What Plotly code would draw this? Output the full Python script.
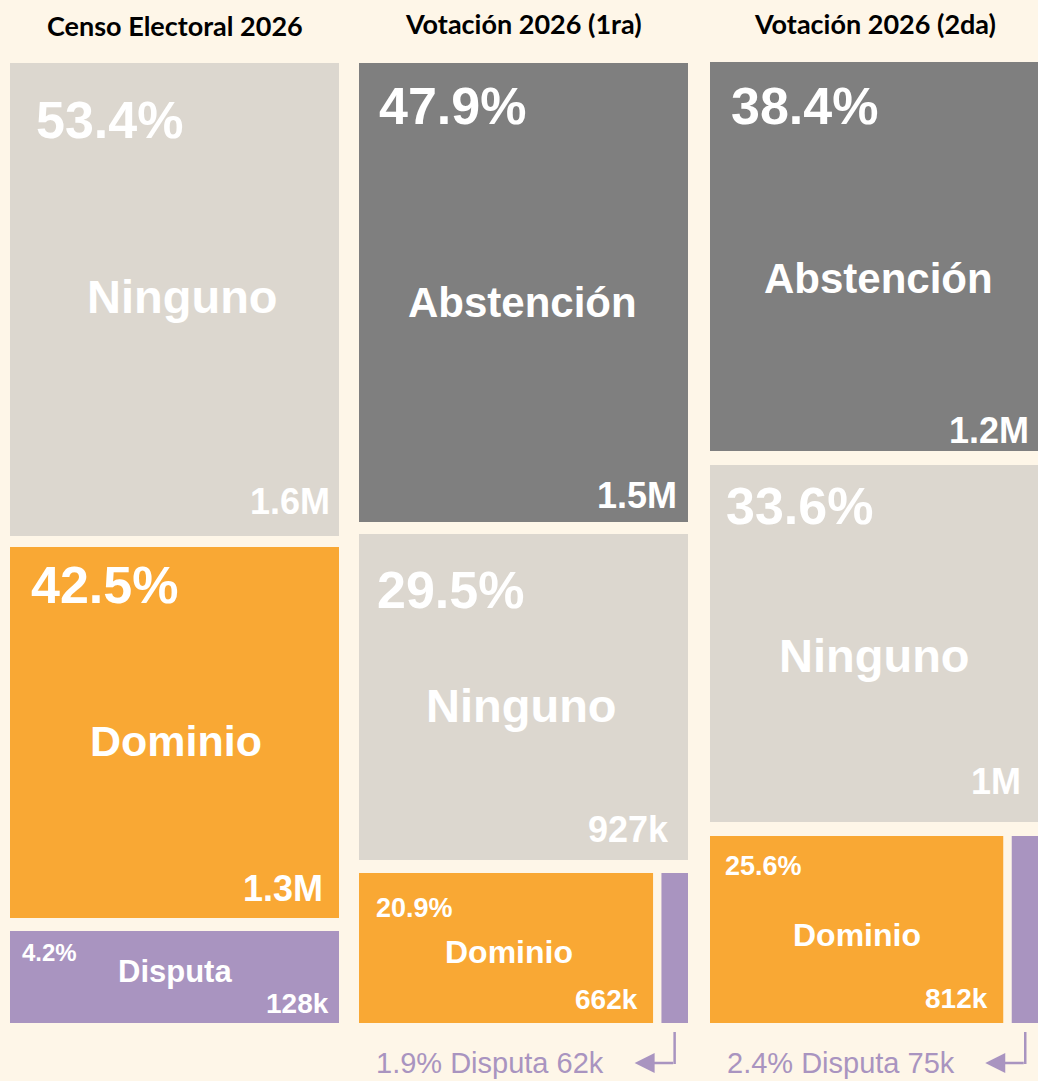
import plotly.graph_objects as go

# ---------------- data ----------------
column_titles = ["Censo Electoral 2026", "Votación 2026 (1ra)", "Votación 2026 (2da)"]

censo_cats = ["Ninguno", "Dominio", "Disputa"]
censo_pct = [53.4, 42.5, 4.2]
censo_votes = ["1.6M", "1.3M", "128k"]

vot1_cats = ["Abstención", "Ninguno", "Dominio", "Disputa"]
vot1_pct = [47.9, 29.5, 20.9, 1.9]
vot1_votes = ["1.5M", "927k", "662k", "62k"]

vot2_cats = ["Abstención", "Ninguno", "Dominio", "Disputa"]
vot2_pct = [38.4, 33.6, 25.6, 2.4]
vot2_votes = ["1.2M", "1M", "812k", "75k"]

columns = [
    (censo_cats, censo_pct, censo_votes),
    (vot1_cats, vot1_pct, vot1_votes),
    (vot2_cats, vot2_pct, vot2_votes),
]

# ---------------- layout / style ----------------
W, H = 1038, 1081
BG = "#FEF6E8"
COLORS = {"Ninguno": "#DCD7CF", "Abstención": "#7F7F7F",
          "Dominio": "#F9A834", "Disputa": "#A994C0"}
LABEL_FONT = "Liberation Sans, Arial, sans-serif"
TITLE_FONT = "Lato, Open Sans, sans-serif"

COL_X = [(10, 339), (359, 688), (710, 1039)]
ROW_Y = [[(63, 536), (547, 918), (931, 1023)],
         [(63, 522), (534, 860), (873, 1023)],
         [(62, 451), (465, 822), (836, 1023)]]
ROWS = [[[0], [1], [2]], [[0], [1], [2, 3]], [[0], [1], [2, 3]]]
CELL_GAP = 8
TITLE_Y = [26, 23, 23]

# per cell style: font sizes (pct, name, value), pct offset (dx, dy), name offset (dx, dy), value offset (dx, dy)
STYLE = {
    (0, 0): ((52, 47, 36), (24, 57), (8, -3), (7, 34)),
    (0, 1): ((52, 43, 36), (19, 38), (1, 8), (14, 30)),
    (0, 2): ((24, 31, 28), (10, 21), (0, -6), (8, 20)),
    (1, 0): ((52, 42, 36), (18, 43), (-1, 10), (9, 27)),
    (1, 1): ((52, 47, 36), (16, 56), (-2, 8), (17, 31)),
    (1, 2): ((27, 32, 28), (15, 35), (3, 4), (13, 24)),
    (2, 0): ((52, 42, 36), (19, 44), (4, 22), (8, 21)),
    (2, 1): ((52, 47, 36), (14, 41), (0, 12), (16, 41)),
    (2, 2): ((27, 32, 28), (13, 30), (0, 5), (13, 25)),
}


def px(xp):
    return min(1.0, max(0.0, xp / W))


def py(yp):
    return min(1.0, max(0.0, 1 - yp / H))


fig = go.Figure()
lay = {}
annotations = []
shapes = []
n = 0
for ci, (cats, pcts, votes) in enumerate(columns):
    x0c, x1c = COL_X[ci]
    annotations.append(dict(
        x=px((x0c + x1c) / 2), y=py(TITLE_Y[ci]), xref="paper", yref="paper",
        text=column_titles[ci], showarrow=False, xanchor="center", yanchor="middle",
        font=dict(family=TITLE_FONT, size=27, color="#000000", weight="bold")))
    for ri, row in enumerate(ROWS[ci]):
        top, bot = ROW_Y[ci][ri]
        row_total = sum(pcts[k] for k in row)
        avail = (x1c - x0c) - CELL_GAP * (len(row) - 1)
        xcur = x0c
        for k in row:
            n += 1
            w = avail * pcts[k] / row_total
            cx0, cx1 = xcur, xcur + w
            xcur = cx1 + CELL_GAP
            sfx = "" if n == 1 else str(n)
            fig.add_trace(go.Bar(
                x=[pcts[k]], y=[cats[k]], orientation="h", width=[1],
                marker=dict(color=COLORS[cats[k]], line=dict(width=0)),
                xaxis="x" + sfx, yaxis="y" + sfx, showlegend=False,
                hovertemplate=f"{cats[k]}: {pcts[k]}% ({votes[k]})<extra></extra>"))
            lay["xaxis" + sfx] = dict(domain=[px(cx0), px(cx1)], range=[0, pcts[k]],
                                      visible=False, fixedrange=True)
            lay["yaxis" + sfx] = dict(domain=[py(bot), py(top)], range=[-0.5, 0.5],
                                      visible=False, fixedrange=True)
            key = (ci, k)
            if key in STYLE:
                (fp, fn, fv), (pdx, pdy), (ndx, ndy), (vdx, vdy) = STYLE[key]
                annotations.append(dict(
                    x=px(cx0 + pdx), y=py(top + pdy), xref="paper", yref="paper",
                    text=f"{pcts[k]:.1f}%", showarrow=False, xanchor="left", yanchor="middle",
                    font=dict(family=LABEL_FONT, size=fp, color="white", weight="bold")))
                annotations.append(dict(
                    x=px((cx0 + cx1) / 2 + ndx), y=py((top + bot) / 2 + ndy),
                    xref="paper", yref="paper",
                    text=cats[k], showarrow=False, xanchor="center", yanchor="middle",
                    font=dict(family=LABEL_FONT, size=fn, color="white", weight="bold")))
                annotations.append(dict(
                    x=px(cx1 - vdx), y=py(bot - vdy), xref="paper", yref="paper",
                    text=votes[k], showarrow=False, xanchor="right", yanchor="middle",
                    font=dict(family=LABEL_FONT, size=fv, color="white", weight="bold")))
            else:
                # callout for the thin box
                mid = (cx0 + cx1) / 2
                cy = bot + 40
                annotations.append(dict(
                    x=px(x0c + 15), y=py(cy), xref="paper", yref="paper",
                    text=f"{pcts[k]:.1f}% {cats[k]} {votes[k]}", showarrow=False,
                    xanchor="left", yanchor="middle",
                    font=dict(family=LABEL_FONT, size=29, color=COLORS[cats[k]])))
                shapes.append(dict(type="line", xref="paper", yref="paper",
                                   x0=px(mid), x1=px(mid), y0=py(bot + 9), y1=py(cy + 1),
                                   line=dict(color=COLORS[cats[k]], width=2.5)))
                annotations.append(dict(
                    x=px(mid - 40), y=py(cy), xref="paper", yref="paper", text="",
                    showarrow=True, ax=40, ay=0, arrowhead=2, arrowsize=1.6,
                    arrowwidth=2.5, arrowcolor=COLORS[cats[k]], standoff=0, startstandoff=0))

fig.update_layout(
    width=W, height=H, margin=dict(l=0, r=0, t=0, b=0),
    paper_bgcolor=BG, plot_bgcolor=BG,
    annotations=annotations, shapes=shapes, **lay)

fig.write_html("out.html",
               config={"displayModeBar": False},
               post_script="document.body.style.margin='0px';"
                           "document.body.style.overflow='hidden';"
                           "document.body.style.background='" + BG + "';")
